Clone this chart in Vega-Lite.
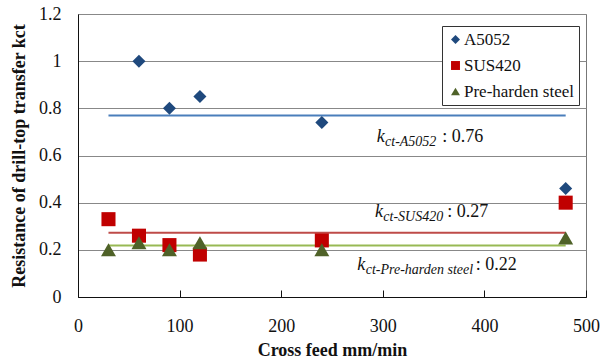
{
  "$schema": "https://vega.github.io/schema/vega-lite/v6.json",
  "width": 508,
  "height": 283,
  "autosize": {"type": "none"},
  "padding": {"left": 78, "top": 14, "right": 16, "bottom": 66},
  "background": "white",
  "config": {
    "font": "Liberation Serif",
    "view": {"stroke": "#777", "strokeWidth": 1},
    "axis": {
      "labelFont": "Liberation Serif",
      "labelFontSize": 18,
      "labelColor": "#111",
      "titleFont": "Liberation Serif",
      "titleFontSize": 18,
      "titleFontWeight": "bold",
      "titleColor": "#111",
      "domainColor": "#111",
      "domainWidth": 1,
      "gridColor": "#888",
      "gridWidth": 1,
      "tickColor": "#111"
    },
    "legend": {
      "labelFont": "Liberation Serif",
      "labelFontSize": 17,
      "labelColor": "#111",
      "symbolSize": 80,
      "strokeColor": "#333",
      "fillColor": "white",
      "padding": 5,
      "rowPadding": 8,
      "labelOffset": 0
    }
  },
  "datasets": {
    "points": [
      {"series": "A5052", "feed": 60, "k": 1.0},
      {"series": "A5052", "feed": 90, "k": 0.8},
      {"series": "A5052", "feed": 120, "k": 0.85},
      {"series": "A5052", "feed": 240, "k": 0.74},
      {"series": "A5052", "feed": 480, "k": 0.46},
      {"series": "SUS420", "feed": 30, "k": 0.33},
      {"series": "SUS420", "feed": 60, "k": 0.26},
      {"series": "SUS420", "feed": 90, "k": 0.22},
      {"series": "SUS420", "feed": 120, "k": 0.18},
      {"series": "SUS420", "feed": 240, "k": 0.24},
      {"series": "SUS420", "feed": 480, "k": 0.4},
      {"series": "Pre-harden steel", "feed": 30, "k": 0.2},
      {"series": "Pre-harden steel", "feed": 60, "k": 0.23},
      {"series": "Pre-harden steel", "feed": 90, "k": 0.2},
      {"series": "Pre-harden steel", "feed": 120, "k": 0.23},
      {"series": "Pre-harden steel", "feed": 240, "k": 0.2},
      {"series": "Pre-harden steel", "feed": 480, "k": 0.25}
    ],
    "means": [
      {"series": "A5052", "from": 30, "to": 480, "k": 0.77},
      {"series": "SUS420", "from": 30, "to": 480, "k": 0.272},
      {"series": "Pre-harden steel", "from": 30, "to": 480, "k": 0.218}
    ],
    "notes": [
      {"piece": "k", "text": "k", "feed": 294.0, "k": 0.659},
      {"piece": "sub", "text": "ct-A5052", "feed": 302.2, "k": 0.642},
      {"piece": "val", "text": ": 0.76", "feed": 398.9, "k": 0.659},
      {"piece": "k", "text": "k", "feed": 292.3, "k": 0.339},
      {"piece": "sub", "text": "ct-SUS420", "feed": 300.5, "k": 0.322},
      {"piece": "val", "text": ": 0.27", "feed": 403.8, "k": 0.339},
      {"piece": "k", "text": "k", "feed": 274.9, "k": 0.1145},
      {"piece": "sub", "text": "ct-Pre-harden steel", "feed": 283.2, "k": 0.0975},
      {"piece": "val", "text": ": 0.22", "feed": 431.8, "k": 0.1145}
    ]
  },
  "layer": [
    {
      "data": {"name": "means"},
      "mark": {"type": "rule", "strokeWidth": 2},
      "encoding": {
        "x": {
          "field": "from", "type": "quantitative",
          "scale": {"domain": [0, 500], "nice": false},
          "axis": {
            "values": [0, 100, 200, 300, 400, 500],
            "title": "Cross feed mm/min",
            "labelFont": "Liberation Serif",
            "ticks": true,
            "tickSize": -7,
            "tickWidth": 1,
            "labelPadding": 27,
            "titlePadding": 6,
            "grid": false,
            "labelFlush": false
          }
        },
        "x2": {"field": "to"},
        "y": {
          "field": "k", "type": "quantitative",
          "scale": {"domain": [0, 1.2], "nice": false},
          "axis": {
            "values": [0, 0.2, 0.4, 0.6, 0.8, 1.0, 1.2],
            "format": "~g",
            "labelFont": "Liberation Serif",
            "title": "Resistance of drill-top transfer  kct",
            "ticks": false,
            "labelPadding": 17,
            "titlePadding": 10,
            "grid": true
          }
        },
        "stroke": {
          "field": "series", "type": "nominal",
          "scale": {"domain": ["Pre-harden steel", "SUS420", "A5052"], "range": ["#98B954", "#BE4B48", "#4A7EBB"]},
          "legend": null
        }
      }
    },
    {
      "data": {"name": "points"},
      "mark": {"type": "point", "filled": true, "opacity": 1},
      "encoding": {
        "x": {"field": "feed", "type": "quantitative"},
        "y": {"field": "k", "type": "quantitative"},
        "color": {
          "field": "series", "type": "nominal",
          "scale": {"domain": ["A5052", "SUS420", "Pre-harden steel"], "range": ["#1F497D", "#C00000", "#4F6228"]},
          "legend": {"title": null, "orient": "none", "legendX": 364, "legendY": 12}
        },
        "shape": {
          "field": "series", "type": "nominal",
          "scale": {"domain": ["A5052", "SUS420", "Pre-harden steel"], "range": ["diamond", "square", "triangle-up"]},
          "legend": {"title": null, "orient": "none", "legendX": 364, "legendY": 12}
        },
        "size": {
          "field": "series", "type": "nominal",
          "scale": {"domain": ["Pre-harden steel", "SUS420", "A5052"], "range": [225, 170, 165]},
          "legend": null
        }
      }
    },
    {
      "data": {"name": "notes"},
      "transform": [{"filter": "datum.piece === 'k'"}],
      "mark": {"type": "text", "align": "left", "baseline": "alphabetic", "font": "Liberation Serif", "fontStyle": "italic", "fontSize": 18, "color": "#111"},
      "encoding": {
        "x": {"field": "feed", "type": "quantitative"},
        "y": {"field": "k", "type": "quantitative"},
        "text": {"field": "text"}
      }
    },
    {
      "data": {"name": "notes"},
      "transform": [{"filter": "datum.piece === 'sub'"}],
      "mark": {"type": "text", "align": "left", "baseline": "alphabetic", "font": "Liberation Serif", "fontStyle": "italic", "fontSize": 14, "color": "#111"},
      "encoding": {
        "x": {"field": "feed", "type": "quantitative"},
        "y": {"field": "k", "type": "quantitative"},
        "text": {"field": "text"}
      }
    },
    {
      "data": {"name": "notes"},
      "transform": [{"filter": "datum.piece === 'val'"}],
      "mark": {"type": "text", "align": "right", "baseline": "alphabetic", "font": "Liberation Serif", "fontSize": 18, "color": "#111"},
      "encoding": {
        "x": {"field": "feed", "type": "quantitative"},
        "y": {"field": "k", "type": "quantitative"},
        "text": {"field": "text"}
      }
    }
  ]
}
